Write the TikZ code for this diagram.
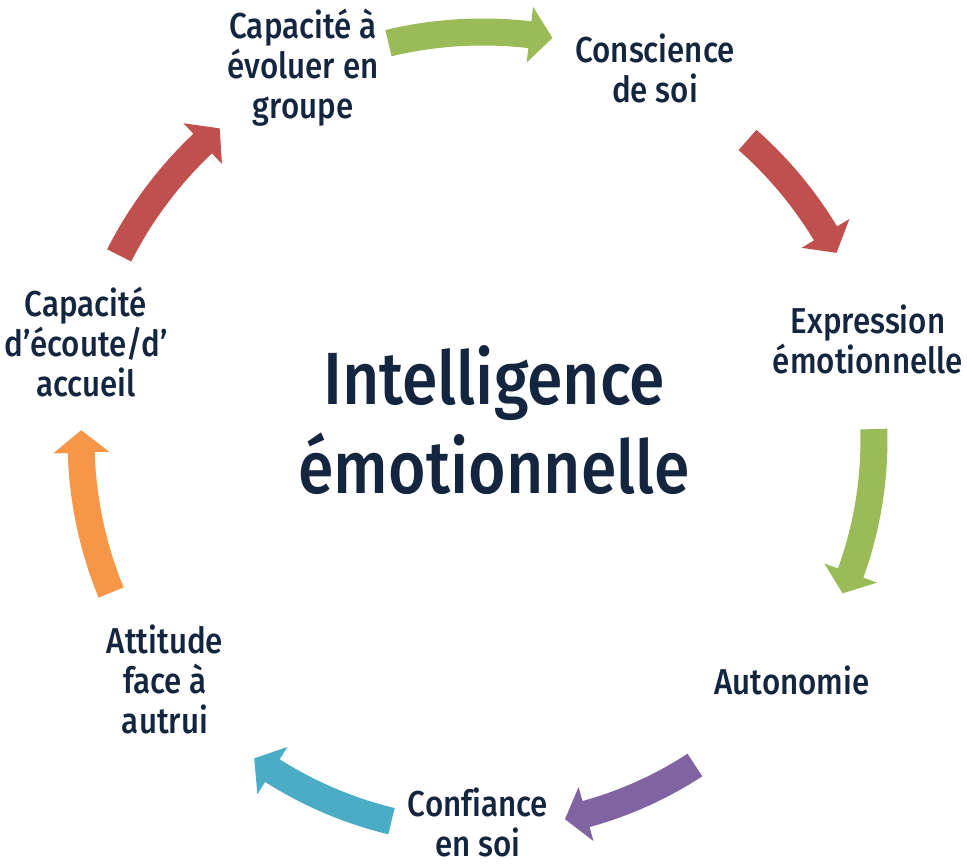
\documentclass[tikz,border=0pt]{standalone}
\usepackage{fontspec}
\setmainfont{Fira Sans Medium}[FakeStretch=0.87, Ligatures=NoCommon]
\definecolor{navy}{HTML}{14263F}
\definecolor{agreen}{HTML}{9BBB59}
\definecolor{ared}{HTML}{C0504D}
\definecolor{apurple}{HTML}{8064A2}
\definecolor{acyan}{HTML}{4BACC6}
\definecolor{aorange}{HTML}{F79646}
\newcommand\cycarrow[4]{%
  \pgfmathsetmacro\cyRo{#2+13.5}%
  \pgfmathsetmacro\cyRi{#2-13.5}%
  \pgfmathsetmacro\cyHo{#2+28}%
  \pgfmathsetmacro\cyHi{#2-28}%
  \pgfmathsetmacro\cyHb{#4+3.2}%
  \fill[#1] (#3:\cyRo) arc[start angle=#3, end angle=\cyHb, radius=\cyRo]
    -- (\cyHb:\cyHo) -- (#4:#2) -- (\cyHb:\cyHi) -- (\cyHb:\cyRi)
    arc[start angle=\cyHb, end angle=#3, radius=\cyRi] -- cycle;}
\begin{document}
\begin{tikzpicture}[x=1pt,y=1pt,
  item/.style={align=center, text=navy, font=\fontsize{36}{40}\selectfont, inner sep=0pt, anchor=base},
  title/.style={align=center, text=navy, font=\fontsize{74}{89}\selectfont, inner sep=0pt, anchor=base}]
\useasboundingbox (0,0) rectangle (967,867);
\begin{scope}[shift={(483,427)}]
  \cycarrow{agreen}{408}{103.4}{80.2}
  \cycarrow{ared}{400}{48.6}{27.9}
  \cycarrow{agreen}{391}{1.6}{-23.1}
  \cycarrow{apurple}{388}{-56.9}{-77.8}
  \cycarrow{acyan}{392}{-103.5}{-125.7}
  \cycarrow{aorange}{402}{-157.7}{-181.4}
  \cycarrow{ared}{408}{153.1}{130.2}
\end{scope}
\node[title] (center) at (494,373) {Intelligence\\émotionnelle};
\node[item] (groupe) at (303,748) {Capacité à\\évoluer en\\groupe};
\node[item] (conscience) at (655,764) {Conscience\\de soi};
\node[item] (expression) at (868,493) {Expression\\émotionnelle};
\node[item] (autonomie) at (792,172) {Autonomie};
\node[item] (confiance) at (478,10) {Confiance\\en soi};
\node[item] (attitude) at (165,133) {Attitude\\face à\\autrui};
\node[item] (ecoute) at (86,470) {Capacité\\d’écoute/d’\\accueil};
\end{tikzpicture}
\end{document}
